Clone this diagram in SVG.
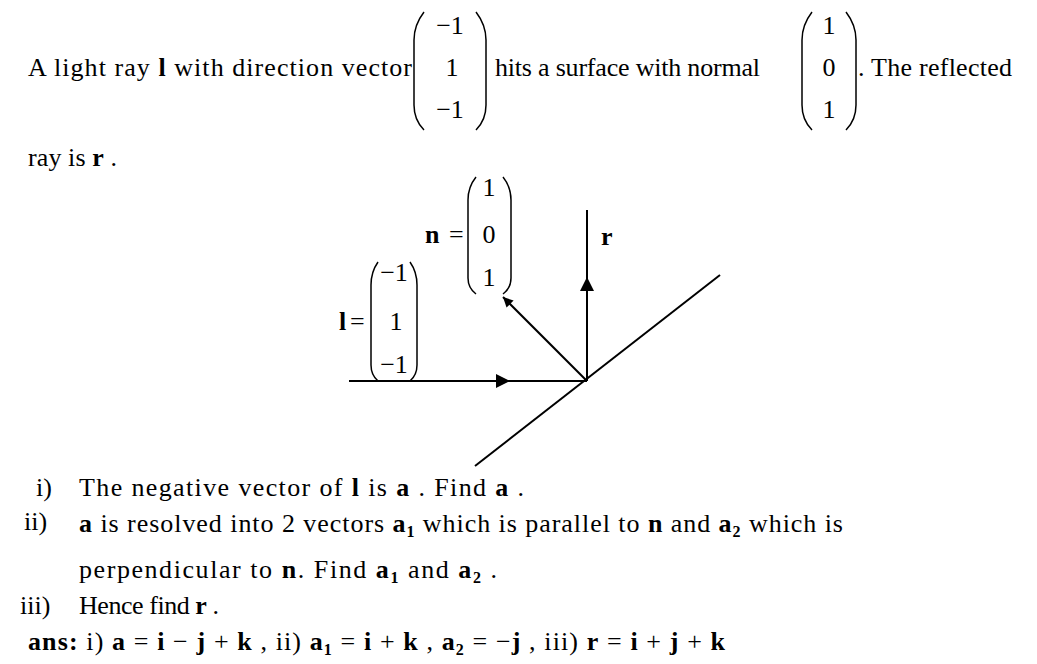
<svg xmlns="http://www.w3.org/2000/svg" width="1037" height="664" viewBox="0 0 1037 664">
<style>
text{font-family:"Liberation Serif","Times New Roman",serif;font-size:26px;fill:#000}
.b{font-weight:bold}
.p{fill:none;stroke:#000;stroke-width:1.5}
.l{stroke:#000;stroke-width:2;fill:none}
</style>
<defs><marker id="ah" viewBox="0 0 10 10" refX="10" refY="5" markerWidth="10" markerHeight="10" markerUnits="userSpaceOnUse" orient="auto"><path d="M0,0L10,5L0,10z"/></marker>
<marker id="ahm" viewBox="0 0 10 10" refX="5" refY="5" markerWidth="14" markerHeight="14" markerUnits="userSpaceOnUse" orient="auto"><path d="M0,0L10,5L0,10z"/></marker></defs>
<rect width="1037" height="664" fill="#fff"/>
<g id="intro">
<text x="28" y="76" textLength="384" lengthAdjust="spacing">A light ray <tspan class="b">l</tspan> with direction vector</text>
<path class="p" d="M424,12 Q414,25 414,40 L414,105 Q414,120 424,130"/>
<path class="p" d="M476,12 Q486,25 486,40 L486,105 Q486,120 476,130"/>
<text x="450" y="34" text-anchor="middle">−1</text>
<text x="452" y="76" text-anchor="middle">1</text>
<text x="450" y="118" text-anchor="middle">−1</text>
<text x="495" y="76" textLength="265" lengthAdjust="spacing">hits a surface with normal</text>
<path class="p" d="M812,12 Q802,25 802,40 L802,105 Q802,120 812,130"/>
<path class="p" d="M846,12 Q856,25 856,40 L856,105 Q856,120 846,130"/>
<text x="829" y="34" text-anchor="middle">1</text>
<text x="829" y="76" text-anchor="middle">0</text>
<text x="829" y="118" text-anchor="middle">1</text>
<text x="858" y="76" textLength="154" lengthAdjust="spacing">. The reflected</text>
<text x="28" y="166" textLength="89" lengthAdjust="spacing">ray is <tspan class="b">r</tspan> .</text>
</g>
<g id="connectors">
<line class="l" x1="475" y1="466" x2="720" y2="275"/>
<line class="l" x1="349" y1="381" x2="587" y2="381"/>
<line class="l" x1="349" y1="381" x2="503" y2="381" marker-end="url(#ahm)"/>
<line class="l" x1="587" y1="381" x2="587" y2="210"/>
<line class="l" x1="587" y1="381" x2="587" y2="284" marker-end="url(#ahm)"/>
<line class="l" x1="587" y1="381" x2="503" y2="297" marker-end="url(#ah)"/>
</g>
<g id="n-label">
<text class="b" x="425" y="243">n</text><text x="449" y="243">=</text>
<path class="p" d="M476,177 Q468,187 468,200 L468,278 Q468,288 476,294"/>
<path class="p" d="M503,177 Q511,187 511,200 L511,278 Q511,288 503,294"/>
<text x="489" y="196" text-anchor="middle">1</text>
<text x="489" y="243" text-anchor="middle">0</text>
<text x="489" y="286" text-anchor="middle">1</text>
</g>
<g id="r-label"><text class="b" x="601" y="245">r</text></g>
<g id="l-label">
<text class="b" x="339" y="330">l</text><text x="350" y="330">=</text>
<path class="p" d="M378,262 Q371,272 371,285 L371,365 Q371,375 378,381"/>
<path class="p" d="M410,262 Q417,272 417,285 L417,365 Q417,375 410,381"/>
<text x="394" y="281" text-anchor="middle">−1</text>
<text x="396" y="330" text-anchor="middle">1</text>
<text x="394" y="373" text-anchor="middle">−1</text>
</g>
<g id="questions">
<text x="36" y="496">i)</text>
<text x="79" y="496" textLength="445" lengthAdjust="spacing">The negative vector of <tspan class="b">l</tspan> is <tspan class="b">a</tspan> . Find <tspan class="b">a</tspan> .</text>
<text x="24" y="530">ii)</text>
<text x="79" y="532" textLength="764" lengthAdjust="spacing"><tspan class="b">a</tspan> is resolved into 2 vectors <tspan class="b">a</tspan><tspan class="b" font-size="16" dy="5">1</tspan><tspan dy="-5">  which is parallel to </tspan><tspan class="b">n</tspan>  and <tspan class="b">a</tspan><tspan class="b" font-size="16" dy="5">2</tspan><tspan dy="-5">  which is</tspan></text>
<text x="79" y="578" textLength="418" lengthAdjust="spacing">perpendicular to <tspan class="b">n</tspan>. Find <tspan class="b">a</tspan><tspan class="b" font-size="16" dy="5">1</tspan><tspan dy="-5">  and </tspan><tspan class="b">a</tspan><tspan class="b" font-size="16" dy="5">2</tspan><tspan dy="-5"> .</tspan></text>
<text x="20" y="614">iii)</text>
<text x="79" y="614" textLength="140" lengthAdjust="spacing">Hence find <tspan class="b">r</tspan> .</text>
<text x="28" y="650" textLength="697" lengthAdjust="spacing"><tspan class="b">ans:</tspan> i) <tspan class="b">a</tspan> = <tspan class="b">i</tspan> − <tspan class="b">j</tspan> + <tspan class="b">k</tspan> , ii) <tspan class="b">a</tspan><tspan class="b" font-size="16" dy="5">1</tspan><tspan dy="-5"> = </tspan><tspan class="b">i</tspan> + <tspan class="b">k</tspan> , <tspan class="b">a</tspan><tspan class="b" font-size="16" dy="5">2</tspan><tspan dy="-5"> = −</tspan><tspan class="b">j</tspan> , iii) <tspan class="b">r</tspan> = <tspan class="b">i</tspan> + <tspan class="b">j</tspan> + <tspan class="b">k</tspan></text>
</g>
</svg>
